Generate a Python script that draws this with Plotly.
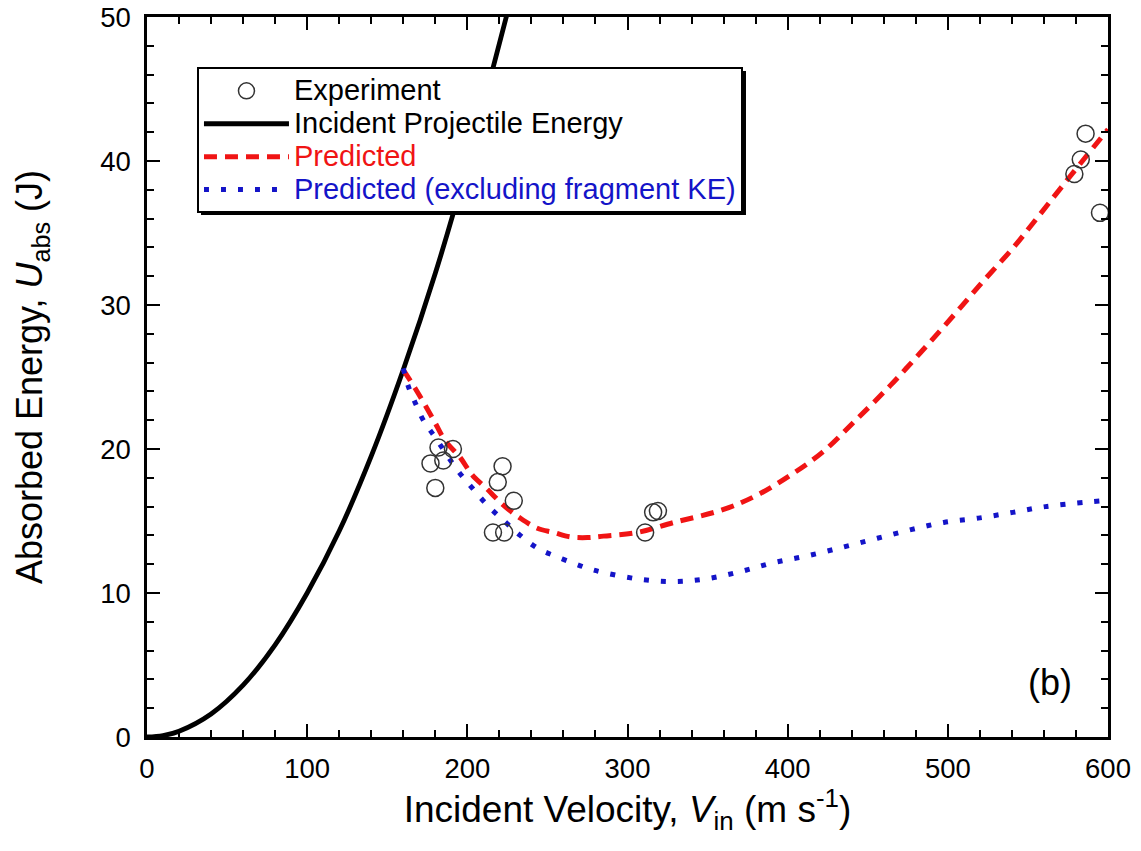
import plotly.graph_objects as go

# ---- data ----
exp_v = [177, 180, 182, 185, 191, 216, 219, 222, 223, 229, 311, 316, 319, 579, 583, 586, 595]
exp_E = [19.0, 17.3, 20.1, 19.2, 20.0, 14.2, 17.7, 18.8, 14.2, 16.4, 14.2, 15.6, 15.7, 39.1, 40.1, 41.9, 36.4]

inc_v = [0, 10, 20, 40, 60, 80, 100, 120, 140, 160, 180, 200, 225]
inc_E = [0, 0.1, 0.4, 1.6, 3.6, 6.4, 10.0, 14.3, 19.5, 25.5, 32.2, 39.8, 50.3]

pred_v = [160, 167.5, 179, 186, 195.6, 203, 212.5, 222.5, 233, 243.7, 254, 264, 275, 285, 306,
          329, 360, 381, 402, 422, 442.5, 464, 483, 503, 522.5, 541, 554, 572.5, 600]
pred_E = [25.5, 24.2, 22.0, 20.6, 19.4, 18.2, 17.2, 16.1, 15.2, 14.5, 14.2, 13.9, 13.85, 13.95, 14.2,
          14.9, 15.8, 16.8, 18.2, 19.8, 22.0, 24.4, 26.7, 29.2, 31.7, 34.0, 35.8, 38.4, 42.2]

predx_v = [160, 163, 167.5, 172.5, 180, 194, 203, 212.5, 224, 233, 244, 254, 265.6, 275.6, 286,
           308, 329, 350, 371, 391, 413, 435, 456, 477, 497.5, 519, 540.6, 561, 596]
predx_E = [25.6, 24.4, 23.2, 22.0, 20.8, 18.5, 17.3, 16.1, 14.9, 14.0, 13.1, 12.6, 12.1, 11.7, 11.4,
           10.95, 10.8, 11.0, 11.5, 12.1, 12.6, 13.2, 13.8, 14.4, 14.9, 15.2, 15.6, 16.0, 16.4]

legend_names = ["Experiment", "Incident Projectile Energy", "Predicted",
                "Predicted (excluding fragment KE)"]

FONT = "Liberation Sans, Arial, sans-serif"
RED = "#f01414"
BLUE = "#1414c8"


def lbl(text, color="black"):
    return f"<span style='font-size:29px;color:{color}'>{text}</span>"


fig = go.Figure()
fig.add_trace(go.Scatter(x=inc_v, y=inc_E, mode="lines", line_shape="spline",
                         name=lbl(legend_names[1]),
                         line=dict(color="black", width=4.8), legendrank=2))
fig.add_trace(go.Scatter(x=pred_v, y=pred_E, mode="lines", line_shape="spline",
                         name=lbl(legend_names[2], RED),
                         line=dict(color=RED, width=5, dash="13px,8px"), legendrank=3))
fig.add_trace(go.Scatter(x=predx_v, y=predx_E, mode="lines", line_shape="spline",
                         name=lbl(legend_names[3], BLUE),
                         line=dict(color=BLUE, width=5, dash="5px,12px"), legendrank=4))
fig.add_trace(go.Scatter(x=exp_v, y=exp_E, mode="markers", name=lbl(legend_names[0]),
                         marker=dict(symbol="circle", size=17, color="rgba(0,0,0,0)",
                                     line=dict(color="#333333", width=1.5)), legendrank=1))

axis_common = dict(
    showgrid=False, zeroline=False, showline=True, linecolor="black", linewidth=2.5,
    mirror="ticks", ticks="inside", ticklen=13, tickwidth=2, tickcolor="black",
    tickfont=dict(family=FONT, size=27.5, color="black"), automargin=False,
    ticklabeloverflow="allow",
)

fig.update_xaxes(range=[0, 600], tick0=0, dtick=100,
                 minor=dict(dtick=20, ticks="inside", ticklen=7, tickwidth=2, tickcolor="black"),
                 ticklabelstandoff=5,
                 title=dict(text="Incident Velocity, <i>V</i><sub>in</sub> (m s<sup>-1</sup>)",
                            font=dict(family=FONT, size=37, color="black"), standoff=6),
                 **axis_common)
fig.update_yaxes(range=[0, 50], tick0=0, dtick=10,
                 minor=dict(dtick=2, ticks="inside", ticklen=7, tickwidth=2, tickcolor="black"),
                 ticklabelstandoff=8,
                 title=dict(text="Absorbed Energy, <i>U</i><sub>abs</sub> (J)",
                            font=dict(family=FONT, size=36, color="black"), standoff=47),
                 **axis_common)

fig.add_annotation(x=564, y=3.8, xref="x", yref="y", text="(b)", showarrow=False,
                   font=dict(family=FONT, size=36, color="black"))

# drop shadow of the legend box (paper coordinates)
fig.add_shape(type="rect", xref="paper", yref="paper",
              x0=0.0562, x1=0.6233, y0=0.725, y1=0.925,
              fillcolor="black", line=dict(width=0), layer="above")

fig.update_layout(
    width=1141, height=851,
    margin=dict(l=147, r=33, t=17, b=114),
    paper_bgcolor="white", plot_bgcolor="white",
    font=dict(family=FONT, color="black"),
    legend=dict(x=0.052, y=0.93, xanchor="left", yanchor="top",
                bgcolor="white", bordercolor="black", borderwidth=2,
                font=dict(family=FONT, size=23, color="black"),
                itemwidth=85, tracegroupgap=0, traceorder="normal"),
    showlegend=True,
)

# remove the default 8px page margin so the figure fills the window exactly
fig.write_html("out.html", config={"displayModeBar": False},
               post_script="document.body.style.margin='0';")
